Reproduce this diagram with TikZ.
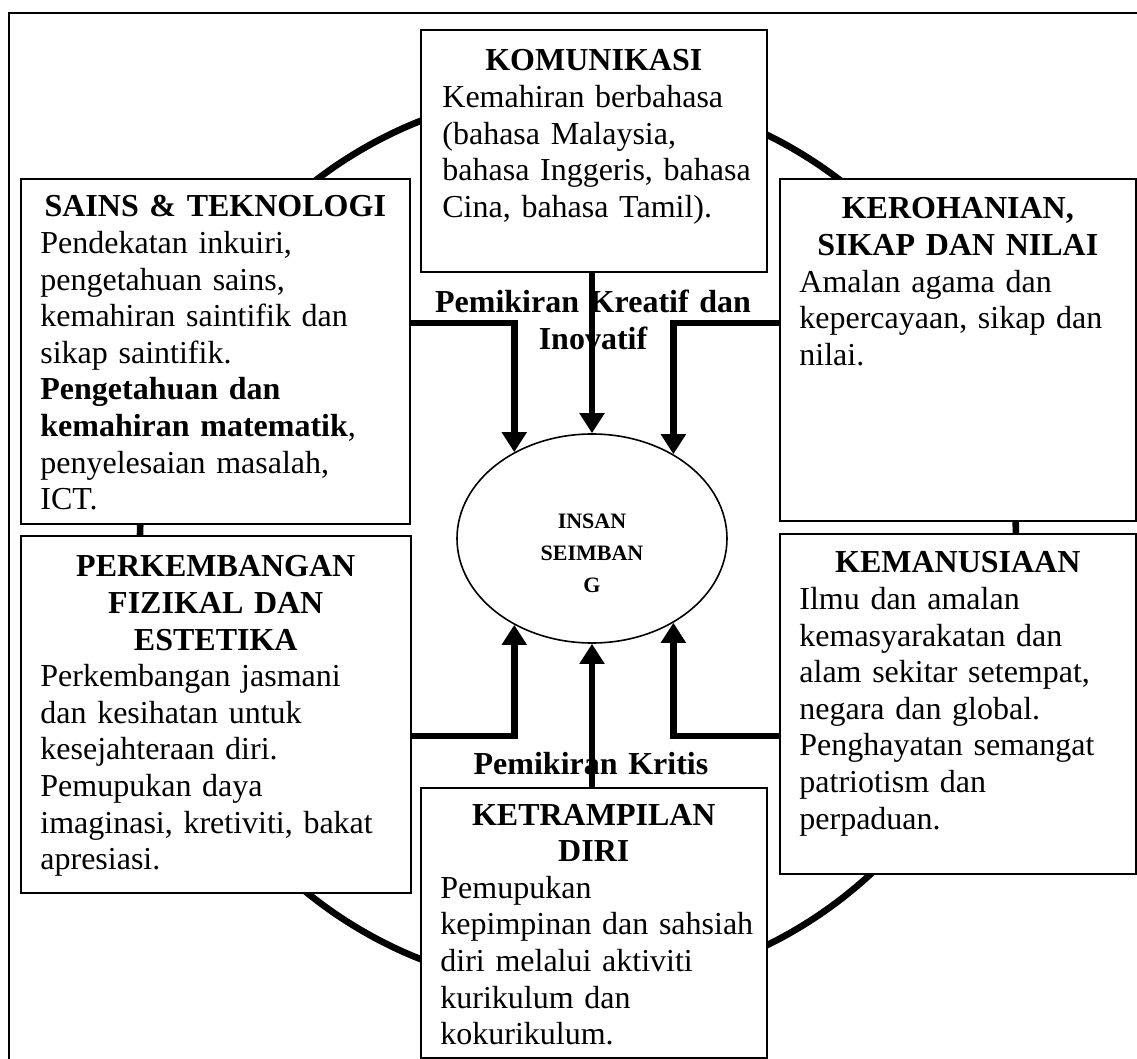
\documentclass[tikz,border=0pt]{standalone}
\usepackage{fontspec}
\setmainfont{Liberation Serif}
\usetikzlibrary{arrows.meta,positioning,shapes.geometric}
\hyphenpenalty=10000

\begin{document}
\begin{tikzpicture}[x=0.5pt, y=-0.5pt,
  panel/.style={draw, line width=0.8pt, fill=white, anchor=north west, inner sep=0pt},
  paneltitle/.style={anchor=base, inner sep=0pt, text width=185pt, align=center, font=\fontsize{16}{18.3}\selectfont\bfseries},
  panelbody/.style={anchor=base west, inner sep=0pt, text width=200pt, align=left, font=\fontsize{16}{18.3}\selectfont},
  theme/.style={anchor=base, inner sep=0pt, text width=200pt, align=center, font=\fontsize{16}{18.3}\selectfont\bfseries},
  flow/.style={-{Triangle[width=12pt,length=10pt]}, line width=3.3pt},
  ring/.style={line width=3.3pt}
]
\useasboundingbox (0,0) rectangle (1137,1059);
% frame and ring
\draw[line width=0.8pt] (1137,13) -- (9,13) -- (9,1059);
\draw[ring] (578,540) ellipse [x radius=438, y radius=449];

% the six panels
\node[panel, minimum width=173pt, minimum height=121pt] (kom) at (420,29) {};
\node[panel, minimum width=194.5pt, minimum height=172.5pt] (sains) at (20,178) {};
\node[panel, minimum width=178pt, minimum height=171pt] (roh) at (779,178) {};
\node[panel, minimum width=195pt, minimum height=178.5pt] (fiz) at (20,535) {};
\node[panel, minimum width=178pt, minimum height=170pt] (manusia) at (779,533) {};
\node[panel, minimum width=173pt, minimum height=135pt] (ket) at (420,787) {};

\node[paneltitle] (komtitle) at ([shift={(0,42)}]kom.north) {KOMUNIKASI};
\node[panelbody] (komtxt) at ([shift={(22,78.6)}]kom.north west)
  {Kemahiran berbahasa\\(bahasa Malaysia,\\bahasa Inggeris, bahasa\\Cina, bahasa Tamil).};
\node[paneltitle] (sainstitle) at ([shift={(0,39)}]sains.north) {SAINS \& TEKNOLOGI};
\node[panelbody] (sainstxt) at ([shift={(20,75.6)}]sains.north west)
  {Pendekatan inkuiri,\\pengetahuan sains,\\kemahiran saintifik dan\\sikap saintifik.\\\textbf{Pengetahuan dan}\\\textbf{kemahiran matematik},\\penyelesaian masalah,\\ICT.};
\node[paneltitle] (rohtitle) at ([shift={(0,41)}]roh.north) {KEROHANIAN,\\SIKAP DAN NILAI};
\node[panelbody] (rohtxt) at ([shift={(20,114.2)}]roh.north west)
  {Amalan agama dan\\kepercayaan, sikap dan\\nilai.};
\node[paneltitle] (fiztitle) at ([shift={(0,42)}]fiz.north) {PERKEMBANGAN\\FIZIKAL DAN\\ESTETIKA};
\node[panelbody] (fiztxt) at ([shift={(20,151.8)}]fiz.north west)
  {Perkembangan jasmani\\dan kesihatan untuk\\kesejahteraan diri.\\Pemupukan daya\\imaginasi, kretiviti, bakat\\apresiasi.};
\node[paneltitle] (manusiatitle) at ([shift={(0,40)}]manusia.north) {KEMANUSIAAN};
\node[panelbody] (manusiatxt) at ([shift={(20,76.6)}]manusia.north west)
  {Ilmu dan amalan\\kemasyarakatan dan\\alam sekitar setempat,\\negara dan global.\\Penghayatan semangat\\patriotism dan\\perpaduan.};
\node[paneltitle] (kettitle) at ([shift={(0,38)}]ket.north) {KETRAMPILAN\\DIRI};
\node[panelbody] (kettxt) at ([shift={(20,111.2)}]ket.north west)
  {Pemupukan\\kepimpinan dan sahsiah\\diri melalui aktiviti\\kurikulum dan\\kokurikulum.};

% centre
\node[draw, ellipse, line width=0.8pt, minimum width=135pt, minimum height=104.5pt, inner sep=0pt] (insan) at (592,538.5) {};
\node[align=center, font=\fontsize{11}{16}\selectfont\bfseries] (insantxt) at (592,553) {INSAN\\SEIMBAN\\G};

\node[theme] (kreatif) at (593,313) {Pemikiran Kreatif dan\\Inovatif};
\node[theme] (kritis) at (591,774) {Pemikiran Kritis};

% arrows
\coordinate (kreatifline) at (592,323);
\coordinate (kritisline) at (592,736);
\draw[flow] (insan.north |- kom.south) -- (insan.north);
\draw[flow] (sains.east |- kreatifline) -| (insan.132);
\draw[flow] (roh.west |- kreatifline) -| (insan.46);
\draw[flow] (insan.south |- ket.north) -- (insan.south);
\draw[flow] (fiz.east |- kritisline) -| (insan.228);
\draw[flow] (manusia.west |- kritisline) -| (insan.314);
\end{tikzpicture}
\end{document}
